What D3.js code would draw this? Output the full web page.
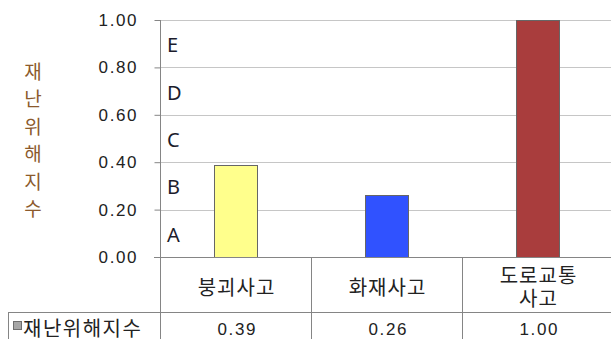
<!DOCTYPE html>
<html>
<head>
<meta charset="utf-8">
<script src="https://cdn.jsdelivr.net/npm/d3@7"></script>
<style>
  html, body { margin: 0; padding: 0; background: #fff; }
  svg { display: block; }
</style>
</head>
<body>
<svg id="chart" width="611" height="339"></svg>
<script>
// Disaster risk index by accident type
const categories = ["붕괴사고", "화재사고", "도로교통\n사고"];
const values = [0.39, 0.26, 1.00];
const barColors = ["#ffff8c", "#3052ff", "#a93d3d"];
const yTicks = [0, 0.2, 0.4, 0.6, 0.8, 1.0];
const gradeLabels = ["A", "B", "C", "D", "E"];
const yTitle = "재난위해지수";
const seriesName = "재난위해지수";

const W = 611, H = 339;
const svg = d3.select("#chart");

const plotLeft = 160, plotTop = 20, base = 257, colW = 151;
const x = d3.scaleBand().domain(categories).range([plotLeft, plotLeft + colW * categories.length]).padding(0);
const y = d3.scaleLinear().domain([0, 1]).range([base, plotTop]);

const hangul = "'Noto Sans CJK KR', sans-serif";
const digits = "'Liberation Sans', sans-serif";
const digitSpacing = 1.6;
const gridGray = "#c6c6c6", axisGray = "#858585";

// horizontal gridlines
svg.append("g").selectAll("line").data(yTicks.filter(d => d > 0)).join("line")
  .attr("x1", plotLeft).attr("x2", W)
  .attr("y1", d => Math.round(y(d)) + 0.5).attr("y2", d => Math.round(y(d)) + 0.5)
  .attr("stroke", gridGray).attr("stroke-width", 1);

// grade bands A–E labelled at each band's middle
svg.append("g").selectAll("text").data(gradeLabels).join("text")
  .attr("x", 167)
  .attr("y", (d, i) => y(yTicks[i] + 0.1) + 1)
  .attr("dominant-baseline", "central")
  .attr("font-family", "'Noto Sans', sans-serif")
  .attr("font-size", 20)
  .attr("fill", "#1c1c2c")
  .text(d => d);

// bars
const barW = colW * 0.285;
svg.append("g").selectAll("rect").data(values).join("rect")
  .attr("x", (d, i) => Math.round(x(categories[i]) + x.bandwidth() / 2 - barW / 2) + 0.5)
  .attr("y", d => Math.round(y(d)) + 0.5)
  .attr("width", Math.round(barW))
  .attr("height", d => Math.round(base - y(d)))
  .attr("fill", (d, i) => barColors[i])
  .attr("stroke", "#666")
  .attr("stroke-width", 1);

// y axis
const yAxis = d3.axisLeft(y).tickValues(yTicks).tickFormat(d3.format(".2f"))
  .tickSize(6).tickPadding(18 - digitSpacing);
const ya = svg.append("g").attr("transform", `translate(${plotLeft + 0.5},0)`).call(yAxis);
ya.select(".domain").remove();
ya.selectAll(".tick line").attr("stroke", axisGray);
ya.selectAll(".tick text")
  .attr("font-family", digits).attr("font-size", 17).attr("letter-spacing", digitSpacing)
  .attr("fill", "#222");

// vertical axis line running through the data table
svg.append("line").attr("x1", plotLeft + 0.5).attr("x2", plotLeft + 0.5)
  .attr("y1", plotTop).attr("y2", H).attr("stroke", axisGray);

// baseline
svg.append("line").attr("x1", plotLeft - 6).attr("x2", W)
  .attr("y1", base + 0.5).attr("y2", base + 0.5).attr("stroke", axisGray);

// data table
const rowTop = 312;
svg.append("line").attr("x1", 8).attr("x2", W)
  .attr("y1", rowTop + 0.5).attr("y2", rowTop + 0.5).attr("stroke", axisGray);
svg.append("line").attr("x1", 8.5).attr("x2", 8.5)
  .attr("y1", rowTop).attr("y2", H).attr("stroke", axisGray);
svg.append("g").selectAll("line").data(categories.slice(1)).join("line")
  .attr("x1", d => Math.round(x(d)) + 0.5).attr("x2", d => Math.round(x(d)) + 0.5)
  .attr("y1", base).attr("y2", H).attr("stroke", axisGray);

// category labels, one text per line
const lineH = 22.5;
categories.forEach(cat => {
  const lines = cat.split("\n");
  const cx = x(cat) + x.bandwidth() / 2 + 1;
  const cy0 = 286 - (lines.length - 1) * lineH / 2;
  svg.append("g").selectAll("text").data(lines).join("text")
    .attr("x", cx)
    .attr("y", (l, i) => cy0 + i * lineH)
    .attr("text-anchor", "middle")
    .attr("dominant-baseline", "central")
    .attr("font-family", hangul).attr("font-size", 20).attr("letter-spacing", 1)
    .attr("fill", "#222")
    .text(l => l);
});

// legend key and series name
svg.append("rect").attr("x", 13.5).attr("y", 321.5).attr("width", 8).attr("height", 8)
  .attr("fill", "#a6a6a6").attr("stroke", "#6e6e6e");
svg.append("text").attr("x", 23).attr("y", 327).attr("dominant-baseline", "central")
  .attr("font-family", hangul).attr("font-size", 20).attr("letter-spacing", 1.5)
  .attr("fill", "#222").text(seriesName);

// values row
svg.append("g").selectAll("text").data(values).join("text")
  .attr("x", (d, i) => x(categories[i]) + x.bandwidth() / 2 + 1 + digitSpacing / 2)
  .attr("y", 329)
  .attr("dominant-baseline", "central")
  .attr("text-anchor", "middle")
  .attr("font-family", digits).attr("font-size", 17).attr("letter-spacing", digitSpacing)
  .attr("fill", "#222")
  .text(d => d3.format(".2f")(d));

// stacked vertical y-axis title
svg.append("g").selectAll("text").data(Array.from(yTitle)).join("text")
  .attr("x", 33)
  .attr("y", (d, i) => 70 + i * 27.5)
  .attr("text-anchor", "middle")
  .attr("dominant-baseline", "central")
  .attr("font-family", hangul).attr("font-size", 19)
  .attr("fill", "#8c5a2c")
  .text(d => d);
</script>
</body>
</html>
